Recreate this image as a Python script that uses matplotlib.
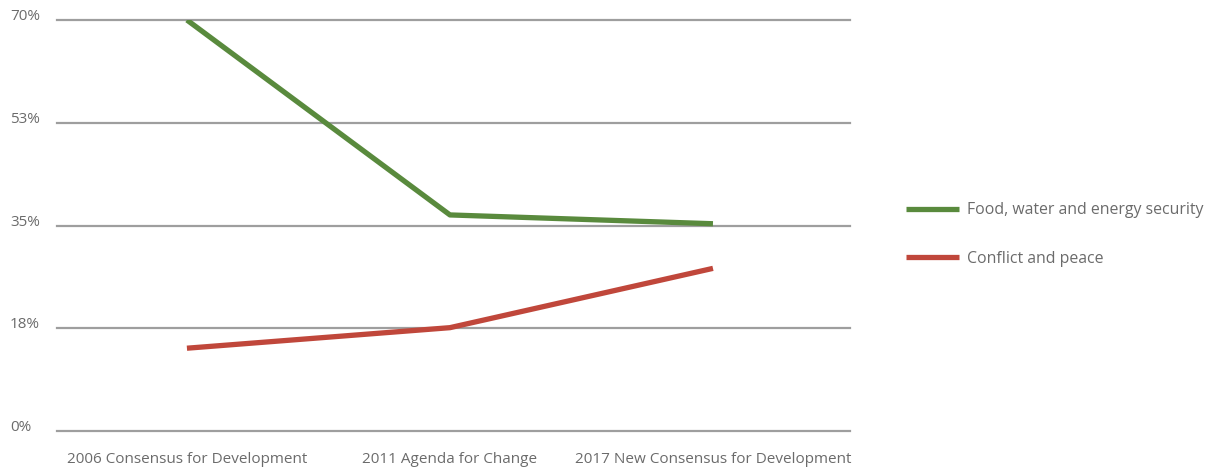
import matplotlib
matplotlib.use("Agg")
import matplotlib.pyplot as plt
import matplotlib.transforms as mtransforms

# Share of funding priorities across the three EU development frameworks
frameworks = ["2006 Consensus for Development", "2011 Agenda for Change",
              "2017 New Consensus for Development"]
food_water_energy = [70.0, 36.8, 35.3]
conflict_peace = [14.1, 17.6, 27.7]
y_ticks = [0, 17.5, 35, 52.5, 70]
y_tick_labels = ["0%", "18%", "35%", "53%", "70%"]

GREEN = "#598a3d"
RED = "#c0473b"
GRID = "#9e9e9e"
TEXT = "#6b6b6b"

plt.rcParams["font.family"] = ["Open Sans", "DejaVu Sans"]
FS = 11
LEG_FS = 11.4

fig = plt.figure(figsize=(12.18, 4.70), dpi=100)
ax = fig.add_axes([57 / 1218, 1 - 431 / 470, (850 - 57) / 1218, (431 - 20) / 470])

x = list(range(len(frameworks)))
ax.plot(x, food_water_energy, color=GREEN, lw=3.8, solid_joinstyle="round",
        solid_capstyle="butt", label="Food, water and energy security", zorder=3)
ax.plot(x, conflict_peace, color=RED, lw=3.8, solid_joinstyle="round",
        solid_capstyle="butt", label="Conflict and peace", zorder=3)

ax.set_xlim(-0.494, 2.521)
ax.set_ylim(0, 70)

for t in y_ticks:
    ax.axhline(t, color=GRID, lw=1.6, zorder=1, clip_on=False)

# y labels sit at the left edge of the figure, resting on each grid line
trans = mtransforms.blended_transform_factory(fig.transFigure, ax.transData)
for t, lab in zip(y_ticks, y_tick_labels):
    ax.text(10 / 1218, t, lab, transform=trans, ha="left", va="baseline",
            fontsize=FS, color=TEXT, clip_on=False)

ax.set_yticks([])
ax.set_xticks(x)
ax.set_xticklabels(frameworks, fontsize=FS, color=TEXT)
ax.tick_params(axis="x", length=0, pad=15)

for s in ax.spines.values():
    s.set_visible(False)

fig.legend(loc="upper left", bbox_to_anchor=(892 / 1218, 1 - 188 / 470),
           frameon=False, fontsize=LEG_FS, labelcolor=TEXT, handlelength=3.3,
           handletextpad=0.55, labelspacing=2.05)

fig.savefig("out.png", dpi=100)
